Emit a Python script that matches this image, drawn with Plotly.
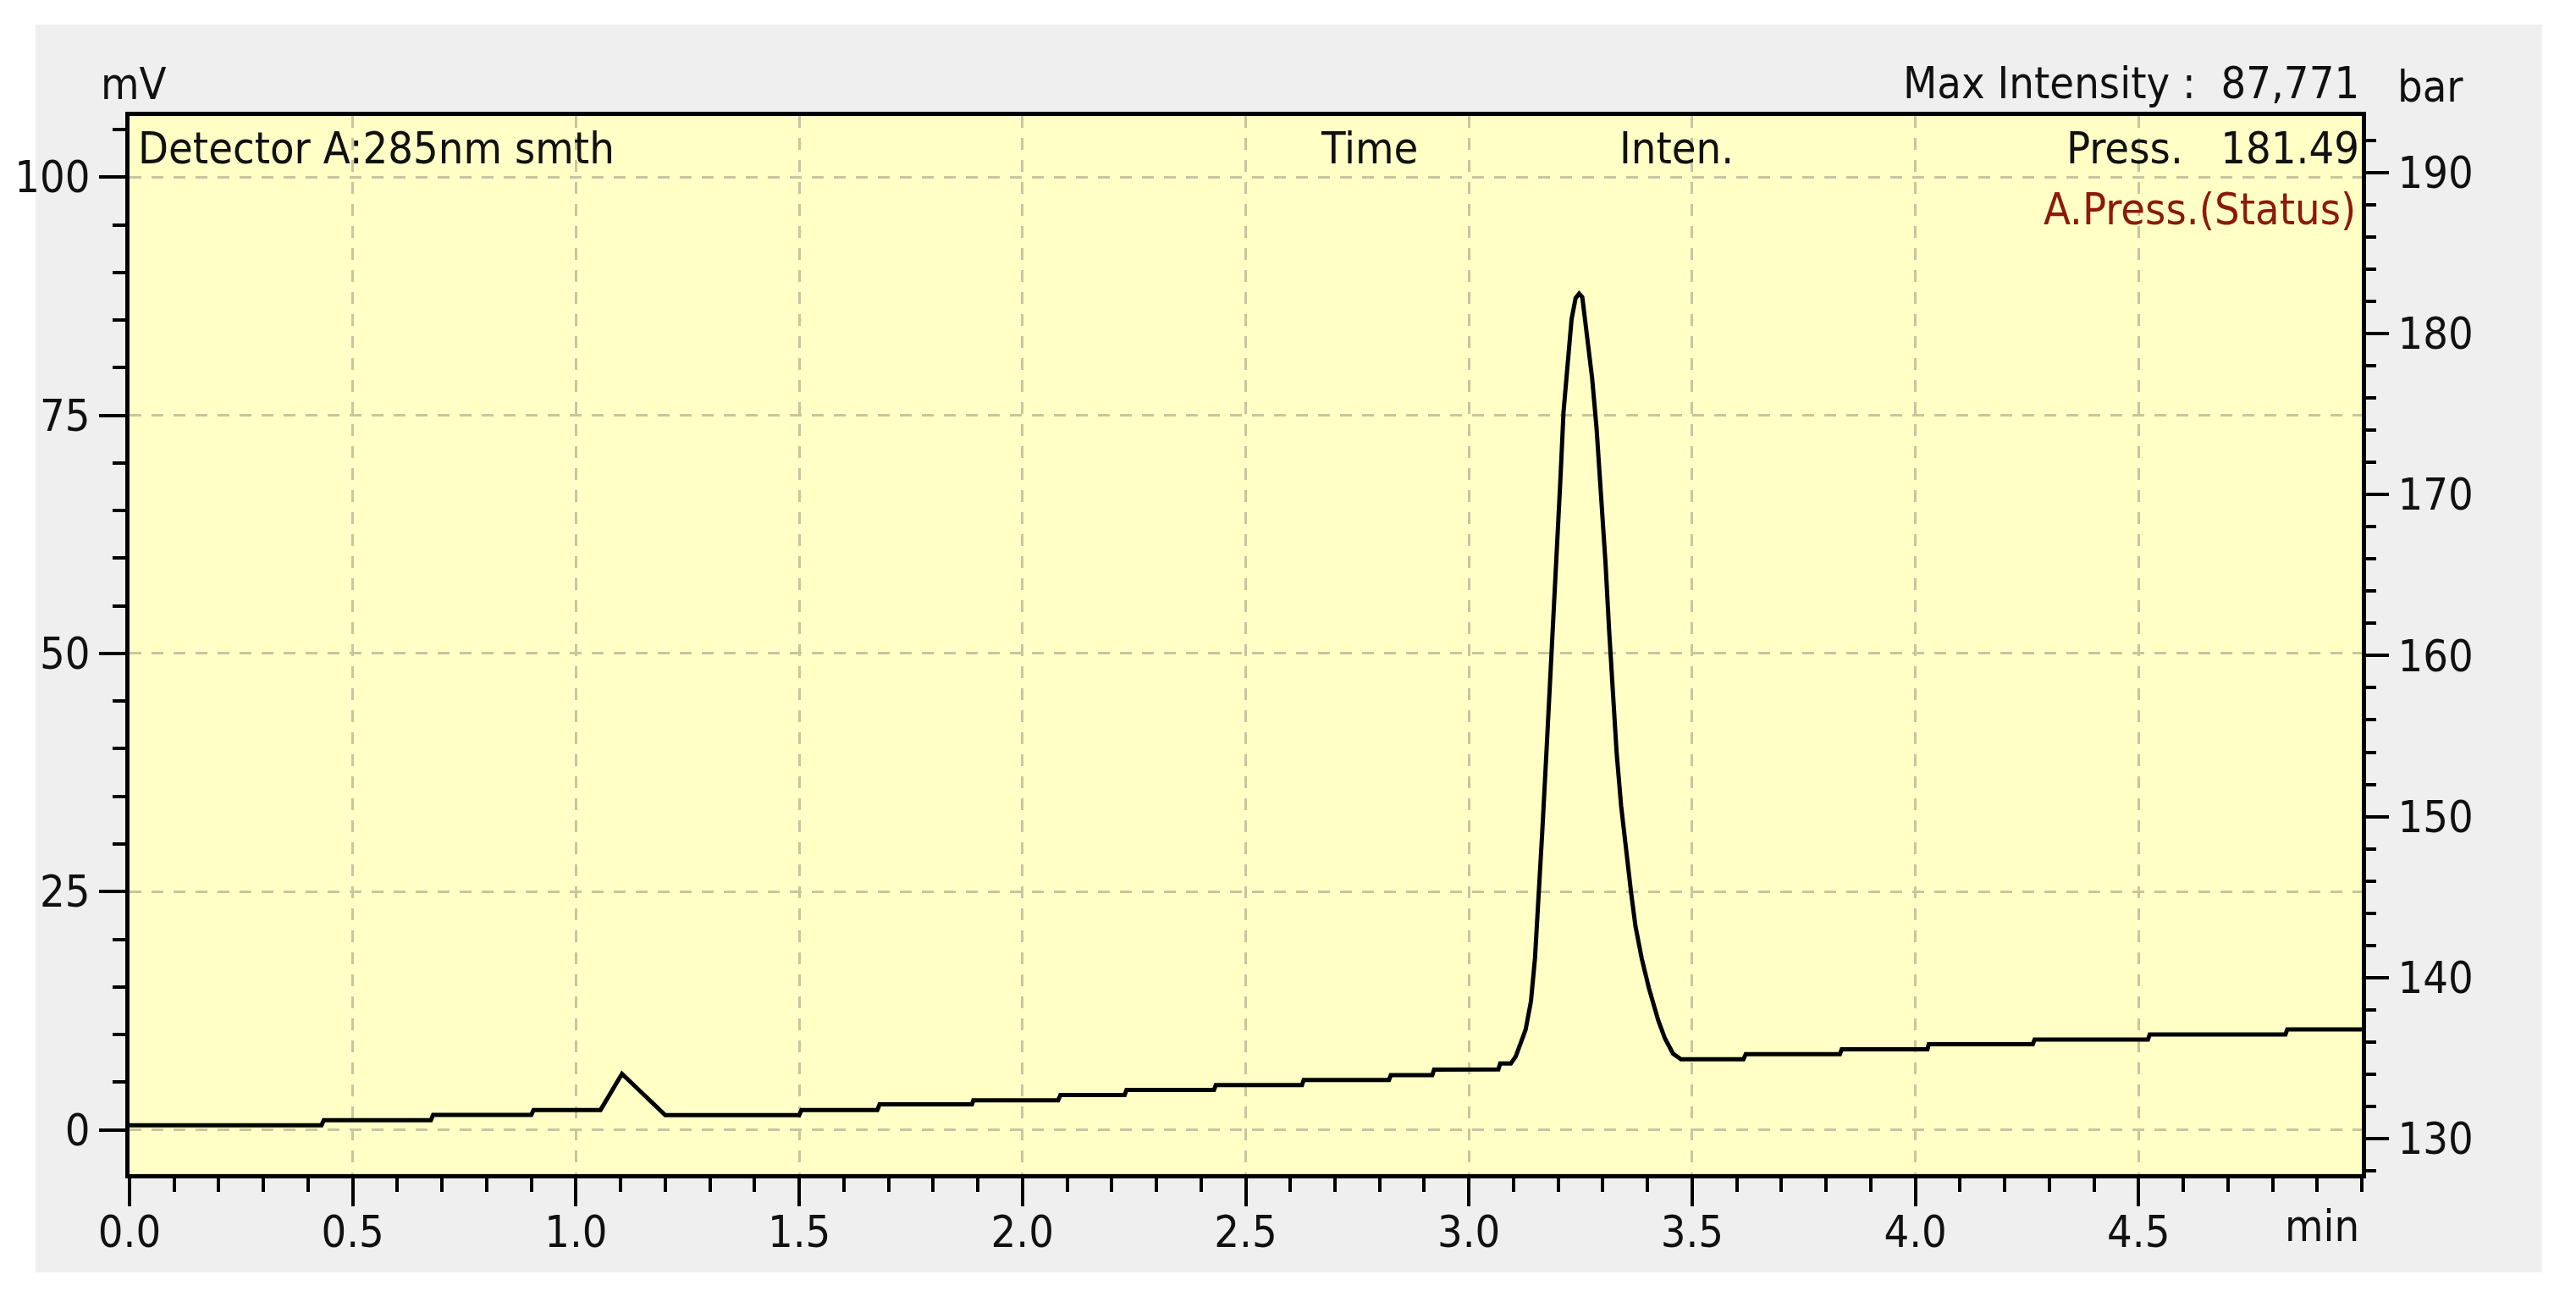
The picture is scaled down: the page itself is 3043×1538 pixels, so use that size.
import plotly.graph_objects as go

# Chromatogram (detector A, 285 nm, smoothed)
time_min = [
    0.00, 0.43, 0.435, 0.675, 0.68, 0.90, 0.905, 1.055, 1.103, 1.20,
    1.50, 1.505, 1.675, 1.68, 1.887, 1.89, 2.080, 2.085, 2.229, 2.233,
    2.429, 2.433, 2.626, 2.63, 2.821, 2.825, 2.918, 2.922, 3.066, 3.07,
    3.094, 3.105, 3.127, 3.139, 3.148, 3.156, 3.164, 3.173, 3.181, 3.188,
    3.196, 3.205, 3.212, 3.221, 3.230, 3.239, 3.247, 3.254, 3.265, 3.276,
    3.286, 3.297, 3.306, 3.314, 3.322, 3.331, 3.341, 3.352, 3.363, 3.373,
    3.387, 3.403, 3.424, 3.439, 3.457, 3.475, 3.615, 3.62, 3.831, 3.835,
    4.027, 4.03, 4.263, 4.267, 4.521, 4.525, 4.829, 4.833, 5.00,
]
intensity_mv = [
    0.47, 0.47, 1.0, 1.0, 1.57, 1.57, 2.08, 2.08, 5.87, 1.54,
    1.54, 2.08, 2.08, 2.67, 2.67, 3.10, 3.10, 3.65, 3.65, 4.18,
    4.18, 4.69, 4.69, 5.22, 5.22, 5.73, 5.73, 6.32, 6.33, 6.96,
    6.96, 7.70, 10.5, 13.5, 18.0, 24.0, 31.0, 39.0, 46.0, 52.3,
    60.2, 68.3, 75.4, 80.7, 85.1, 87.3, 87.771, 87.4, 83.2, 78.9,
    73.6, 66.5, 59.5, 52.5, 45.5, 39.5, 34.0, 29.2, 25.0, 21.4,
    18.0, 14.9, 11.5, 9.6, 8.0, 7.4, 7.4, 7.94, 7.94, 8.44,
    8.44, 8.97, 8.97, 9.48, 9.48, 10.01, 10.01, 10.54, 10.54,
]

x_ticks = [0.0, 0.5, 1.0, 1.5, 2.0, 2.5, 3.0, 3.5, 4.0, 4.5]
mv_ticks = [0, 25, 50, 75, 100]
bar_ticks = [130, 140, 150, 160, 170, 180, 190]

FONT = "Liberation Sans Narrow, Arial Narrow, DejaVu Sans Condensed, sans-serif"
GRID = "#c9c5a0"
FS = 52

fig = go.Figure()
fig.add_trace(go.Scatter(
    x=time_min, y=intensity_mv, mode="lines",
    line=dict(color="black", width=5), showlegend=False,
))
# pressure axis carries no visible trace
fig.add_trace(go.Scatter(x=[], y=[], yaxis="y2", showlegend=False))

tick_common = dict(ticks="outside", tickcolor="black", tickwidth=4,
                   tickfont=dict(family=FONT, size=FS, color="#111"),
                   zeroline=False, linecolor="black", linewidth=5,
                   automargin=False)

# page body adds 8px, margins compensate for it
fig.update_layout(
    width=3043, height=1538, autosize=False,
    margin=dict(l=145, r=261, t=129, b=159),
    paper_bgcolor="white",
    plot_bgcolor="rgba(0,0,0,0)",
    font=dict(family=FONT, size=FS, color="#111"),
    xaxis=dict(
        range=[0, 5.0], tickvals=x_ticks,
        ticktext=[f"{v:.1f}" for v in x_ticks],
        ticklen=33, showline=True, mirror=True, ticklabelstandoff=-14,
        showgrid=True, gridcolor=GRID, gridwidth=3, griddash="14px,12px",
        minor=dict(dtick=0.1, tick0=0, ticklen=16, tickwidth=4,
                   tickcolor="black", ticks="outside", showgrid=False),
        **tick_common,
    ),
    yaxis=dict(
        range=[-4.66, 106.42], tickvals=mv_ticks, ticklen=31,
        showline=True, mirror=True,
        showgrid=True, gridcolor=GRID, gridwidth=3, griddash="14px,12px",
        minor=dict(dtick=5, tick0=0, ticklen=15, tickwidth=4,
                   tickcolor="black", ticks="outside", showgrid=False),
        **tick_common,
    ),
    yaxis2=dict(
        overlaying="y", side="right", anchor="x",
        range=[127.8, 193.5], tickvals=bar_ticks, ticklen=27,
        showline=True, showgrid=False,
        minor=dict(dtick=2, tick0=130, ticklen=12, tickwidth=4,
                   tickcolor="black", ticks="outside", showgrid=False),
        **tick_common,
    ),
    shapes=[
        dict(type="rect", xref="paper", yref="paper",
             x0=-0.0421, x1=1.0808, y0=-0.0928, y1=1.0864,
             fillcolor="#efefef", line=dict(width=0), layer="below"),
        dict(type="rect", xref="paper", yref="paper",
             x0=0, x1=1, y0=0, y1=1,
             fillcolor="#ffffc6", line=dict(width=0), layer="below"),
    ],
)

def note(text, x, y, xanchor, yanchor="middle", color="#111"):
    fig.add_annotation(text=text, x=x, y=y, xref="paper", yref="paper",
                       xanchor=xanchor, yanchor=yanchor, showarrow=False,
                       font=dict(family=FONT, size=FS, color=color))

note("mV", 0.002, 1.030, "center")
note("Max Intensity :  87,771", 0.9996, 1.031, "right")
note("bar", 1.0152, 1.028, "left")
note("Detector A:285nm smth", 0.003, 0.970, "left")
note("Time", 0.5552, 0.970, "center")
note("Inten.", 0.6932, 0.970, "center")
note("Press.   181.49", 0.9996, 0.970, "right")
note("A.Press.(Status)", 0.998, 0.912, "right", color="#8b1a0a")
note("min", 0.9996, -0.049, "right")

fig.write_html("out.html")
